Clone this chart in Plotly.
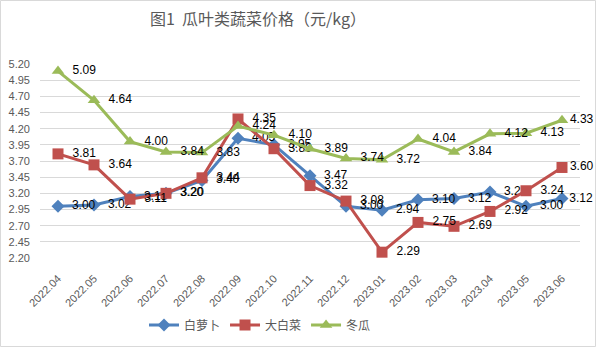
import plotly.graph_objects as go

months = ["2022.04", "2022.05", "2022.06", "2022.07", "2022.08", "2022.09", "2022.10",
          "2022.11", "2022.12", "2023.01", "2023.02", "2023.03", "2023.04", "2023.05", "2023.06"]
radish = [3.00, 3.02, 3.15, 3.20, 3.40, 4.05, 3.95, 3.47, 3.00, 2.94, 3.10, 3.12, 3.22, 3.00, 3.12]
cabbage = [3.81, 3.64, 3.11, 3.20, 3.44, 4.35, 3.89, 3.32, 3.08, 2.29, 2.75, 2.69, 2.92, 3.24, 3.60]
melon = [5.09, 4.64, 4.00, 3.84, 3.83, 4.24, 4.10, 3.89, 3.74, 3.72, 4.04, 3.84, 4.12, 4.13, 4.33]
yticks = [2.20, 2.45, 2.70, 2.95, 3.20, 3.45, 3.70, 3.95, 4.20, 4.45, 4.70, 4.95, 5.20]

series = [
    ("白萝卜", radish, "#4f81bd", "diamond", 10),
    ("大白菜", cabbage, "#c0504d", "square", 11),
    ("冬瓜", melon, "#9bbb59", "triangle-up", 11),
]

fig = go.Figure()
for name, vals, color, sym, size in series:
    n = len(vals)
    labels = [(f"  {v:.2f}" if i < n - 1 else f"{v:.2f}") for i, v in enumerate(vals)]
    fig.add_trace(go.Scatter(
        x=months, y=vals, name=name, mode="lines+markers+text",
        line=dict(color=color, width=3),
        marker=dict(symbol=sym, size=size, color=color),
        text=labels, textposition="middle right",
        textfont=dict(family="Liberation Sans, Arial", size=12, color="#000000"),
        cliponaxis=False,
    ))

W, H = 596, 347
L, R, T, B = 40, 16, 64, 89
pw, ph = W - L - R, H - T - B

def px(x):
    return (x - L) / pw

def py(y):
    return 1 - (y - T) / ph

fig.add_shape(type="rect", xref="paper", yref="paper",
              x0=px(0.5), x1=px(W - 0.5), y0=py(H - 0.5), y1=py(0.5),
              line=dict(color="#d9d9d9", width=1), layer="below")

fig.update_layout(
    width=W, height=H,
    margin=dict(l=L, r=R, t=T, b=B, autoexpand=False),
    paper_bgcolor="white", plot_bgcolor="white",
    font=dict(family="Liberation Sans, Arial, Noto Sans CJK SC", color="#595959"),
    title=dict(text="图1  瓜叶类蔬菜价格（元/kg）", xref="container", yref="container",
               x=258 / W, y=1 - 19 / H, xanchor="center", yanchor="middle",
               font=dict(family="Noto Sans CJK SC", size=16, color="#595959")),
    xaxis=dict(type="category", range=[-0.5, 14.5], tickangle=-45, showgrid=False,
               showline=False, ticks="", ticklabelstandoff=11, automargin=False,
               tickfont=dict(size=11, color="#595959")),
    yaxis=dict(range=[2.20, 5.20], tickvals=yticks, tickformat=".2f",
               showgrid=True, gridcolor="#d9d9d9", gridwidth=1, zeroline=False,
               showline=False, ticks="", ticklabelstandoff=9, automargin=False,
               tickfont=dict(size=11, color="#595959")),
    legend=dict(orientation="h", xref="container", yref="container",
                x=260 / W, y=1 - 325 / H, xanchor="center", yanchor="middle",
                font=dict(family="Noto Sans CJK SC", size=12, color="#595959"),
                itemwidth=30, tracegroupgap=0),
    showlegend=True,
)

fig.write_html("out.html")
